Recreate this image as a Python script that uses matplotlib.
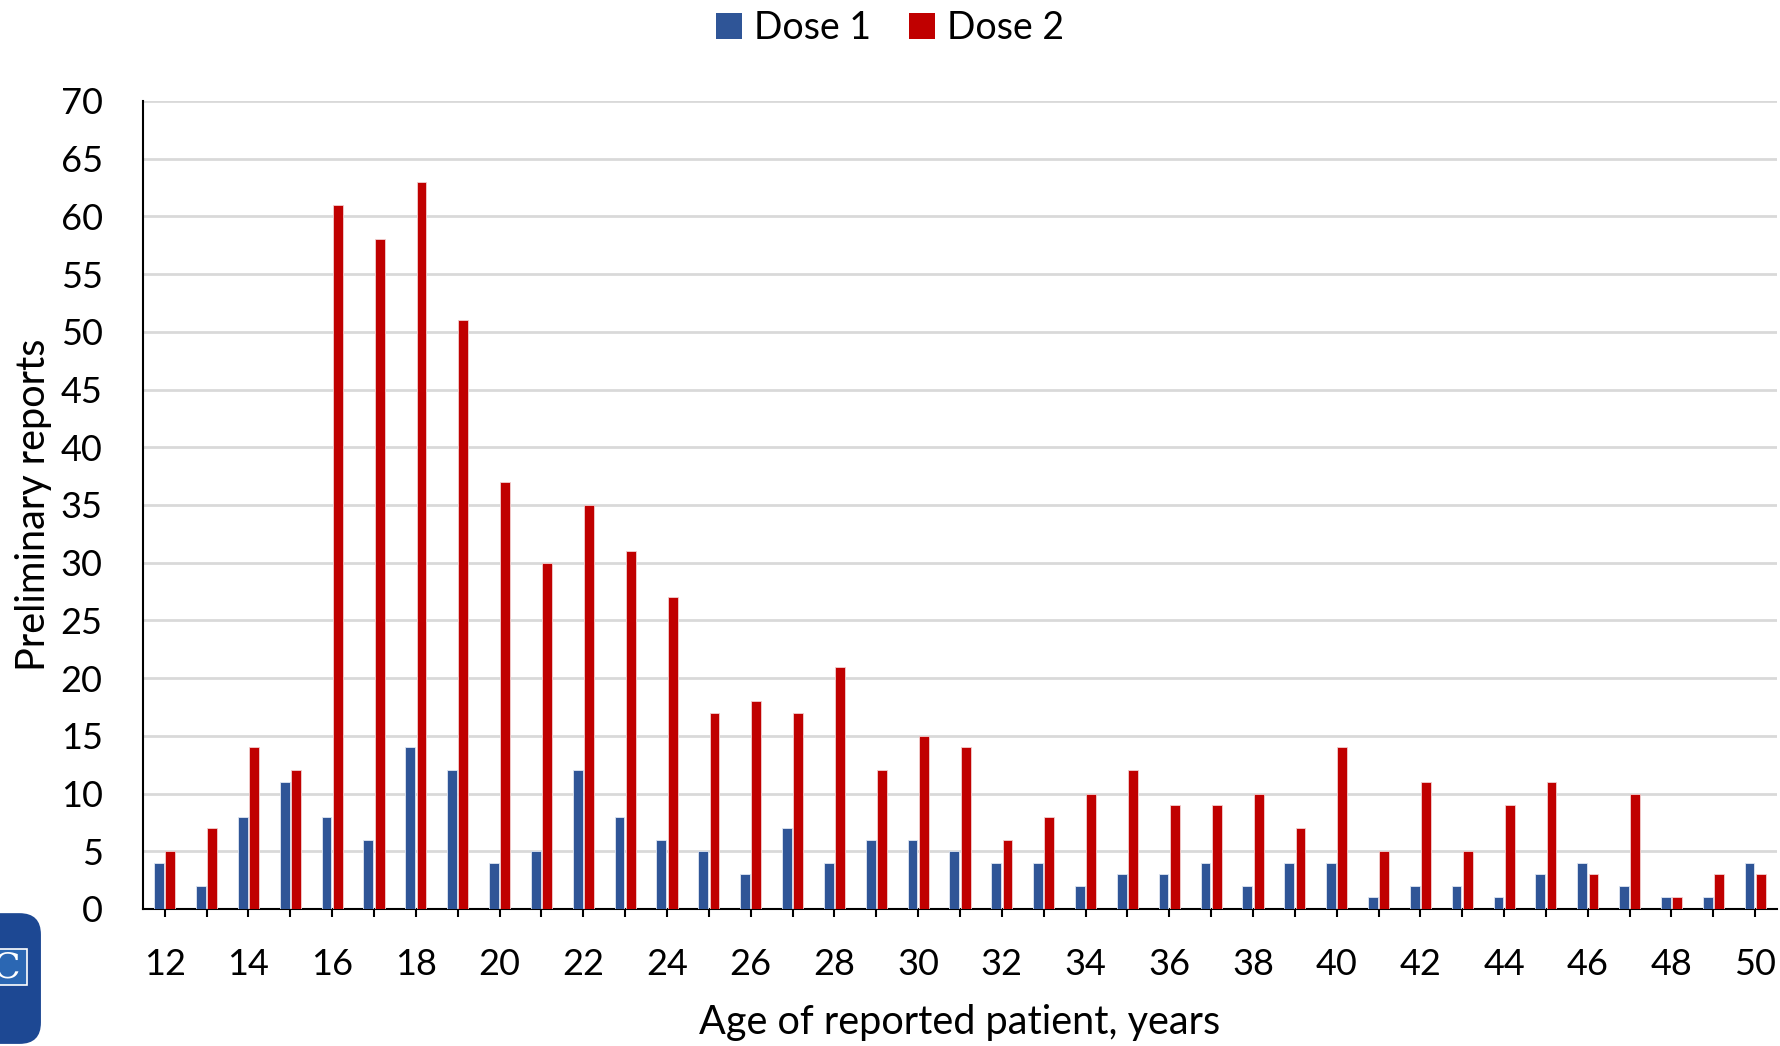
import numpy as np
import matplotlib
matplotlib.use("Agg")
import matplotlib.pyplot as plt
from matplotlib.patches import Patch, FancyBboxPatch, Rectangle

plt.rcParams['font.family'] = ['Lato', 'DejaVu Sans']

ages = list(range(12, 51))
dose1 = [4, 2, 8, 11, 8, 6, 14, 12, 4, 5, 12, 8, 6, 5, 3, 7, 4, 6, 6, 5,
         4, 4, 2, 3, 3, 4, 2, 4, 4, 1, 2, 2, 1, 3, 4, 2, 1, 1, 4]
dose2 = [5, 7, 14, 12, 61, 58, 63, 51, 37, 30, 35, 31, 27, 17, 18, 17, 21, 12, 15, 14,
         6, 8, 10, 12, 9, 9, 10, 7, 14, 5, 11, 5, 9, 11, 3, 10, 1, 3, 3]
yticks = list(range(0, 71, 5))

BLUE = '#2F5597'
RED = '#C00000'
GRID = '#d9d9d9'
FS = 26

fig = plt.figure(figsize=(17.8, 10.46), dpi=100)
ax = fig.add_axes([0.0803, 0.131, 0.918, 0.7725])

x = np.arange(len(ages))
w = 0.235
ax.bar(x - 0.135, dose1, width=w, color=BLUE, edgecolor='#dfe6f2', linewidth=0.6, zorder=3)
ax.bar(x + 0.135, dose2, width=w, color=RED, edgecolor='#f2d0d0', linewidth=0.6, zorder=3)

ax.set_xlim(-0.52, len(ages) - 0.48)
ax.set_ylim(0, 70)
ax.set_yticks(yticks)
ax.yaxis.grid(True, color=GRID, linewidth=2.0, zorder=0)
ax.set_axisbelow(True)

ax.set_xticks(x)
ax.set_xticklabels([str(a) if a % 2 == 0 else '' for a in ages])
ax.tick_params(axis='x', direction='out', length=6, width=1.5, pad=22,
               labelsize=FS, colors='black')
ax.tick_params(axis='y', length=0, pad=29, labelsize=FS)

for side in ('top', 'right'):
    ax.spines[side].set_visible(False)
ax.spines['left'].set_linewidth(1.5)
ax.spines['bottom'].set_linewidth(1.5)

ax.set_ylabel('Preliminary reports', fontsize=28.5, labelpad=6)
ax.set_xlabel('Age of reported patient, years', fontsize=28.5, labelpad=17)

handles = [Patch(facecolor=BLUE, label='Dose 1'), Patch(facecolor=RED, label='Dose 2')]
fig.legend(handles=handles, loc='center', bbox_to_anchor=(0.5, 0.973), ncol=2,
           frameon=False, fontsize=27, handlelength=0.7, handleheight=0.7,
           handletextpad=0.32, columnspacing=1.0)

# agency badge in the lower-left corner
badge = FancyBboxPatch((-0.03, 0.002), 0.053, 0.125, boxstyle='round,pad=0,rounding_size=0.012',
                       transform=fig.transFigure, facecolor='#1d4893', edgecolor='none',
                       mutation_aspect=1.7)
fig.patches.append(badge)
fig.patches.append(Rectangle((-0.01, 0.058), 0.025, 0.035, transform=fig.transFigure,
                             facecolor='#2b67b3', edgecolor='white', linewidth=1.2))
fig.text(0.004, 0.075, 'C', color='white', fontsize=26, family='DejaVu Serif',
         ha='center', va='center')

fig.savefig('out.png', dpi=100)
